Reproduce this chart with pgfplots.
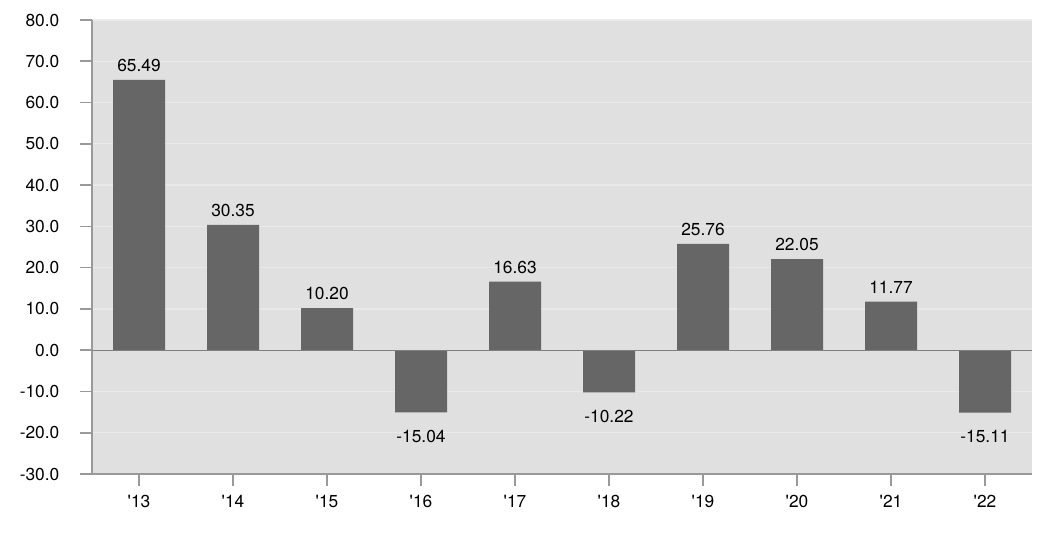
\documentclass[border=0pt]{standalone}
\usepackage{fontspec}
\setmainfont{TeX Gyre Heros}
\usepackage{pgfplots}
\pgfplotsset{compat=1.18}
\definecolor{bg}{HTML}{E0E0E0}
\definecolor{gridc}{HTML}{E9E9E9}
\definecolor{barc}{HTML}{666666}
\definecolor{axc}{HTML}{999999}
\definecolor{zeroc}{HTML}{7F7F7F}
\begin{document}
\fontsize{13}{15.6}\selectfont
\begin{tikzpicture}
\begin{axis}[
  scale only axis,
  width=705pt, height=340.5pt,
  xmin=-0.5, xmax=9.5,
  ymin=-30, ymax=80,
  ytick={-30,-20,...,80},
  xtick={0,...,9},
  xticklabels={\textquotesingle13,\textquotesingle14,\textquotesingle15,\textquotesingle16,\textquotesingle17,\textquotesingle18,\textquotesingle19,\textquotesingle20,\textquotesingle21,\textquotesingle22},
  axis background/.style={fill=bg},
  axis x line*=bottom, axis y line*=left,
  axis line style={axc, line width=1.2pt, -},
  tick style={axc, line width=1.2pt},
  tick align=outside,
  major tick length=9pt,
  ymajorgrids, grid style={gridc, line width=1pt},
  /pgf/number format/assume math mode=true,
  y tick label style={/pgf/number format/fixed, /pgf/number format/fixed zerofill, /pgf/number format/precision=1},
  yticklabel shift=11pt,
  xticklabel shift=2pt,
  ybar, bar width=39pt, bar shift=0pt,
  nodes near coords,
  nodes near coords align={vertical},
  every node near coord/.append style={/pgf/number format/fixed, /pgf/number format/fixed zerofill, /pgf/number format/precision=2, /pgf/number format/assume math mode=true, inner sep=6pt},
  clip=false,
]
\addplot[fill=barc, draw=none] coordinates {
(0,65.49) (1,30.35) (2,10.20) (4,16.63) (6,25.76) (7,22.05) (8,11.77)};
\addplot[fill=barc, draw=none, every node near coord/.append style={yshift=-7pt}] coordinates {
(3,-15.04) (5,-10.22) (9,-15.11)};
\draw[zeroc, line width=1pt] (axis cs:-0.5,0) -- (axis cs:9.5,0);
\end{axis}
\path[use as bounding box] (-69pt,-43.5pt) rectangle (720pt,355.5pt);
\end{tikzpicture}
\end{document}
